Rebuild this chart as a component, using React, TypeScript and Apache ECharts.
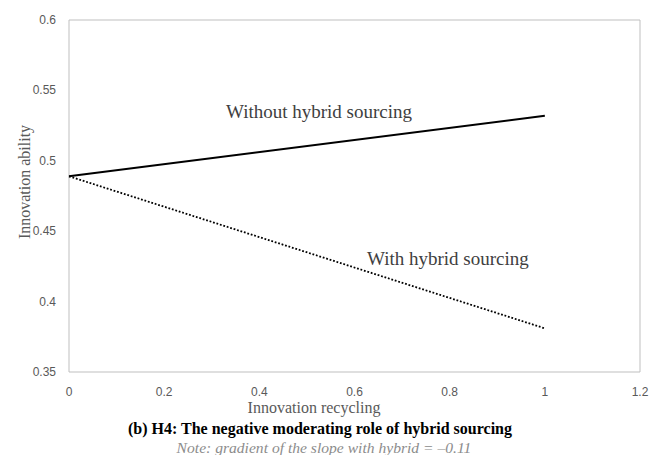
import React, { useEffect, useRef } from "react";
import * as echarts from "echarts";

const xValues = [0, 1];
const withoutHybrid = [0.489, 0.532];
const withHybrid = [0.489, 0.381];
const xTicks = ["0", "0.2", "0.4", "0.6", "0.8", "1", "1.2"];
const labelWithout = "Without hybrid sourcing";
const labelWith = "With hybrid sourcing";
const xTitle = "Innovation recycling";
const yTitle = "Innovation ability";
const caption = "(b) H4: The negative moderating role of hybrid sourcing";
const note = "Note: gradient of the slope with hybrid = \u20130.11";

const serif = "'Liberation Serif', 'DejaVu Serif', serif";
const sans = "'Liberation Sans', 'Noto Sans', sans-serif";

export default function App() {
  const ref = useRef<HTMLDivElement>(null);
  useEffect(() => {
    if (!ref.current) return;
    const chart = echarts.init(ref.current, null, { renderer: "svg" });
    chart.setOption({
      animation: false,
      backgroundColor: "#ffffff",
      grid: {
        left: 69,
        right: 15,
        top: 20,
        bottom: 83,
        show: true,
        borderColor: "#bfbfbf",
        borderWidth: 1,
        containLabel: false,
      },
      xAxis: {
        type: "value",
        min: 0,
        max: 1.2,
        interval: 0.2,
        axisLine: { show: false },
        axisTick: { show: false },
        splitLine: { show: false },
        axisLabel: {
          color: "#595959",
          fontFamily: sans,
          fontSize: 12,
          margin: 14,
          formatter: (v: number) => xTicks[Math.round(v / 0.2)] ?? String(v),
        },
      },
      yAxis: {
        type: "value",
        min: 0.35,
        max: 0.6,
        interval: 0.05,
        axisLine: { show: false },
        axisTick: { show: false },
        splitLine: { show: false },
        axisLabel: {
          color: "#595959",
          fontFamily: sans,
          fontSize: 12,
          margin: 13,
          formatter: (v: number) => String(+v.toFixed(2)),
        },
      },
      series: [
        {
          type: "line",
          data: xValues.map((x, i) => [x, withoutHybrid[i]]),
          symbol: "none",
          lineStyle: { color: "#000000", width: 2, type: "solid" },
        },
        {
          type: "line",
          data: xValues.map((x, i) => [x, withHybrid[i]]),
          symbol: "none",
          lineStyle: { color: "#000000", width: 1.8, type: [1.8, 1.8] },
        },
      ],
      graphic: [
        {
          type: "text",
          x: 226,
          y: 111,
          style: { text: labelWithout, fill: "#404040", font: `19px ${serif}`, textVerticalAlign: "middle" },
        },
        {
          type: "text",
          x: 367,
          y: 258,
          style: { text: labelWith, fill: "#404040", font: `19px ${serif}`, textVerticalAlign: "middle" },
        },
        {
          type: "text",
          x: 24,
          y: 182,
          rotation: Math.PI / 2,
          style: { text: yTitle, fill: "#595959", font: `16px ${serif}`, textAlign: "center", textVerticalAlign: "middle" },
        },
        {
          type: "text",
          x: 314,
          y: 407,
          style: { text: xTitle, fill: "#595959", font: `16px ${serif}`, textAlign: "center", textVerticalAlign: "middle" },
        },
        {
          type: "text",
          x: 320,
          y: 428,
          style: { text: caption, fill: "#000000", font: `bold 16px ${serif}`, textAlign: "center", textVerticalAlign: "middle" },
        },
        {
          type: "text",
          x: 324,
          y: 447,
          style: { text: note, fill: "#8c8c8c", font: `italic 15.6px ${serif}`, textAlign: "center", textVerticalAlign: "middle" },
        },
      ],
    });
    return () => chart.dispose();
  }, []);
  return <div ref={ref} style={{ position: "fixed", left: 0, top: 0, width: 655, height: 455 }} />;
}
